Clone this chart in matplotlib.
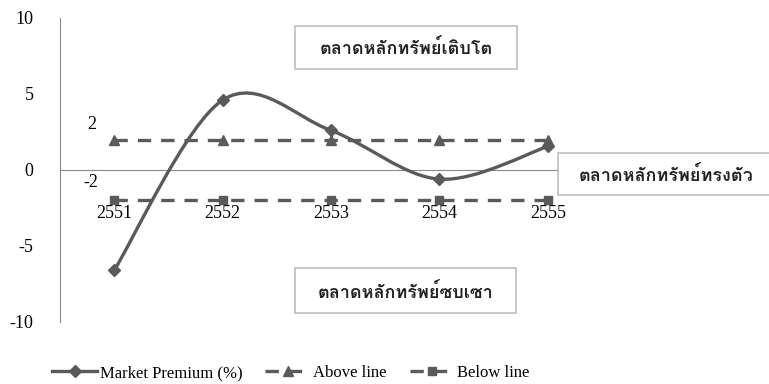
import numpy as np
import matplotlib
matplotlib.use('Agg')
import matplotlib.pyplot as plt
from matplotlib.path import Path
from matplotlib.patches import PathPatch, Rectangle
from matplotlib.lines import Line2D
from matplotlib import font_manager
from matplotlib.ft2font import FT2Font

years = ['2551', '2552', '2553', '2554', '2555']
market_premium = [-6.6, 4.6, 2.6, -0.6, 1.55]
above_line = [2, 2, 2, 2, 2]
below_line = [-2, -2, -2, -2, -2]
y_ticks = [-10, -5, 0, 5, 10]
box_growth = 'ตลาดหลักทรัพย์เติบโต'
box_stable = 'ตลาดหลักทรัพย์ทรงตัว'
box_slump = 'ตลาดหลักทรัพย์ซบเซา'

# look for any installed font that has thai glyphs
thai_font = None
for f in font_manager.fontManager.ttflist:
    try:
        if 0x0E15 in FT2Font(f.fname).get_charmap():
            thai_font = f.name
            break
    except Exception:
        pass
thai_family = [thai_font, 'DejaVu Sans'] if thai_font else ['DejaVu Sans']

plt.rcParams['font.family'] = ['Liberation Serif', 'DejaVu Serif']

W, H = 769, 384
gray = '#5a5a5a'
fig = plt.figure(figsize=(W / 100, H / 100), dpi=100)
ax = fig.add_axes([60/W, 1 - 322/H, 542/W, 304/H])

for s in ['top', 'right']:
    ax.spines[s].set_visible(False)
ax.spines['left'].set_color('#8a8a8a')
ax.spines['bottom'].set_position(('data', 0))
ax.spines['bottom'].set_color('#8a8a8a')

x = np.arange(len(years))

# smooth line like excel (bezier through the points)
pts = np.column_stack([x, market_premium])
verts = [pts[0]]
codes = [Path.MOVETO]
n = len(pts)
for i in range(n - 1):
    p0 = pts[max(i - 1, 0)]
    p1 = pts[i]
    p2 = pts[i + 1]
    p3 = pts[min(i + 2, n - 1)]
    c1 = p1 + (p2 - p0) / 6
    c2 = p2 - (p3 - p1) / 6
    verts += [c1, c2, p2]
    codes += [Path.CURVE4] * 3
ax.add_patch(PathPatch(Path(verts, codes), facecolor='none', edgecolor=gray,
                       lw=2.4, zorder=3))
ax.plot(x, market_premium, linestyle='none', marker='D', markersize=6.5,
        color=gray, zorder=4)

dash = (0, (4, 3))
ax.plot(x, above_line, linestyle=dash, lw=2.4, color=gray,
        marker='^', markersize=6.5, zorder=3)
ax.plot(x, below_line, linestyle=dash, lw=2.4, color=gray,
        marker='s', markersize=5.5, zorder=3)

ax.annotate(str(above_line[0]), (x[0], above_line[0]), xytext=(-16, 11),
            textcoords='offset points', ha='center', va='center', fontsize=13)
ax.annotate(str(below_line[0]), (x[0], below_line[0]), xytext=(-17, 13),
            textcoords='offset points', ha='center', va='center', fontsize=13)

ax.set_xlim(-0.5, len(years) - 0.5)
ax.set_ylim(-10, 10)
ax.set_yticks(y_ticks)
ax.set_yticklabels([str(v) for v in y_ticks], fontsize=13)
ax.set_xticks(x)
ax.set_xticklabels(years, fontsize=13)
ax.tick_params(axis='y', length=0, pad=19)
ax.tick_params(axis='x', length=0, pad=25)


def label_box(x0, y0, x1, y1, text, ty):
    fig.patches.append(Rectangle((x0/W, 1 - y1/H), (x1 - x0)/W, (y1 - y0)/H,
                                 transform=fig.transFigure, facecolor='white',
                                 edgecolor='#bdbdbd', lw=1.2, zorder=8))
    fig.text((x0 + x1) / 2 / W, 1 - ty/H, text, ha='center', va='center',
             fontsize=13, family=thai_family, weight='bold', color='#222222',
             zorder=9)


label_box(295, 26, 517, 69, box_growth, 49)
label_box(558, 153, 775, 195, box_stable, 176)
label_box(295, 268, 516, 313, box_slump, 292)

handles = [
    Line2D([], [], color=gray, lw=2.4, marker='D', markersize=6.5),
    Line2D([], [], color=gray, lw=2.4, linestyle=dash, marker='^', markersize=6.5),
    Line2D([], [], color=gray, lw=2.4, linestyle=dash, marker='s', markersize=5.5),
]
fig.legend(handles, ['Market Premium (%)', 'Above line', 'Below line'],
           loc='center left', bbox_to_anchor=(37/W, 1 - 373/H), ncol=3,
           frameon=False, fontsize=12, handlelength=2.7, columnspacing=1.4,
           handletextpad=0.15)

fig.savefig('out.png', dpi=100)
